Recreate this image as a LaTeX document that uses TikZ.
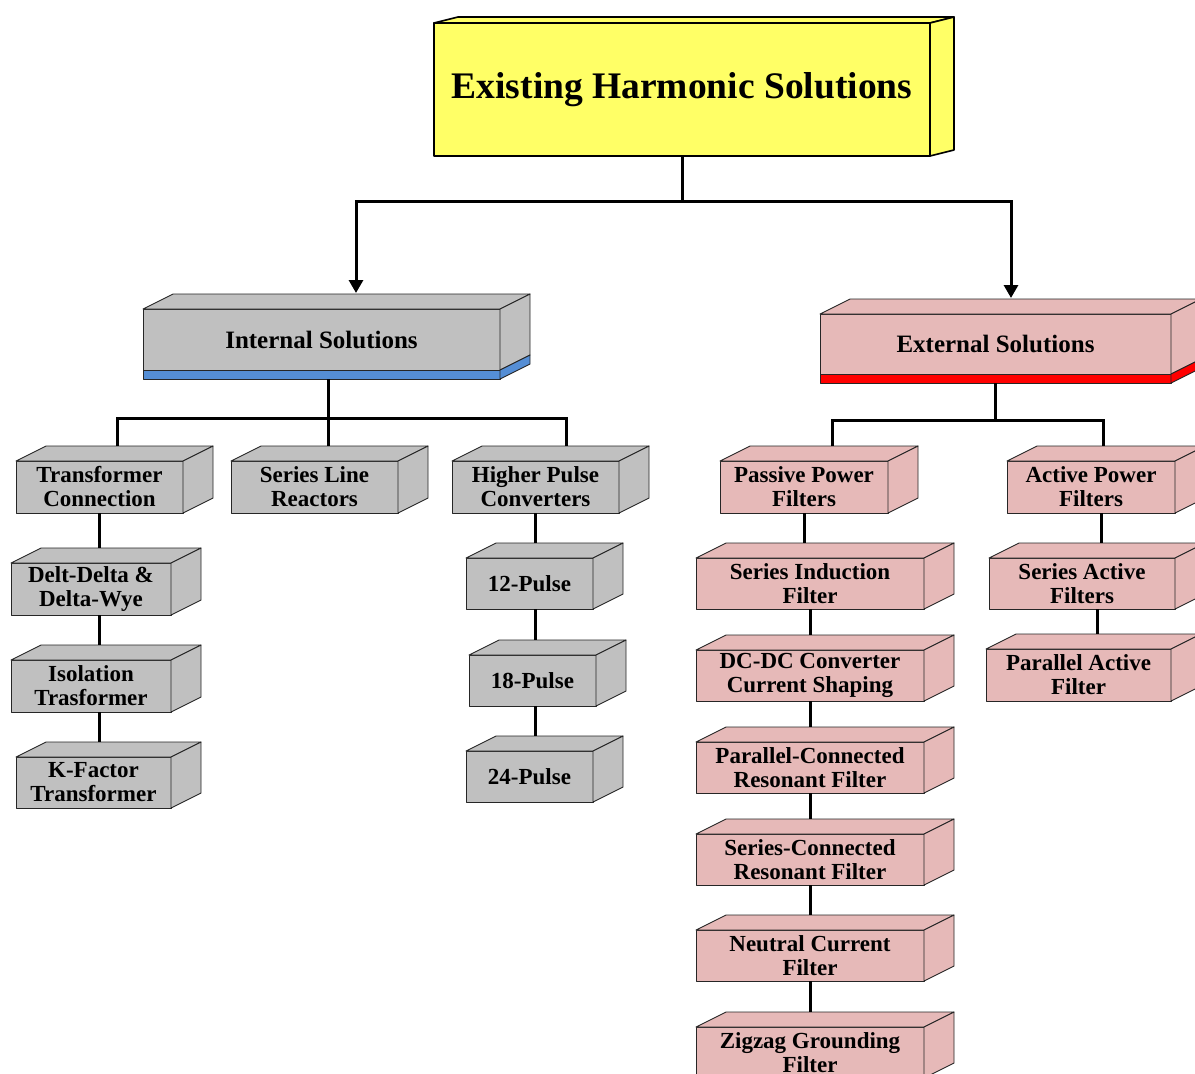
\documentclass[tikz,border=0pt]{standalone}
\usepackage{fontspec}
\setmainfont{Liberation Serif}
\usetikzlibrary{arrows.meta}

\definecolor{boxgray}{HTML}{C0C0C0}
\definecolor{boxpink}{HTML}{E6B9B8}
\definecolor{boxyellow}{HTML}{FFFF66}
\definecolor{stripblue}{HTML}{558ED5}
\definecolor{stripred}{HTML}{FF0000}

% #1 name, #2 left, #3 top, #4 width, #5 height, #6 fill, #7 depth dx, #8 depth dy, #9 text
\newcommand\solidbox[9]{%
  \node[block, fill=#6, minimum width=#4pt, minimum height=#5pt] (#1) at (#2,#3) {#9};
  \filldraw[face, fill=#6] (#1.north west) -- ++(#7,#8) -- ([shift={(#7,#8)}]#1.north east) -- (#1.north east) -- cycle;
  \filldraw[face, fill=#6] (#1.north east) -- ++(#7,#8) -- ([shift={(#7,#8)}]#1.south east) -- (#1.south east) -- cycle;
  \coordinate (#1-top) at ([shift={(0,#8)}]#1.north);
}

\begin{document}
\begin{tikzpicture}[x=1pt, y=-1pt,
  face/.style={draw=black!85, line width=0.9pt, line join=round},
  block/.style={face, inner sep=0pt, outer sep=0pt, align=center, anchor=north west,
    font=\fontsize{23}{24}\selectfont\bfseries},
  conn/.style={draw=black, line width=3pt},
  arrow/.style={conn, -{Triangle[width=14pt,length=13pt]}}]
\useasboundingbox (0,0) rectangle (1195,1074);
\clip (0,0) rectangle (1195,1074);

% root
\begin{scope}[face/.append style={draw=black, line width=1.6pt}]
\solidbox{top}{434}{23}{496}{133}{boxyellow}{24}{-6}{\raisebox{-2pt}{\fontsize{37.5}{40}\selectfont Existing Harmonic Solutions}}
\end{scope}

% second level
\solidbox{int}{143}{309}{357}{61}{boxgray}{30}{-15}{\fontsize{25}{27}\selectfont Internal Solutions}
\filldraw[face, fill=stripblue] (int.south west) rectangle ++(357,9);
\filldraw[face, fill=stripblue] (int.south east) -- ++(30,-15) -- ++(0,9) -- ++(-30,15) -- cycle;

\solidbox{ext}{820}{314}{351}{60}{boxpink}{30}{-15}{\fontsize{25}{27}\selectfont External Solutions}
\filldraw[face, fill=stripred] (ext.south west) rectangle ++(351,9);
\filldraw[face, fill=stripred] (ext.south east) -- ++(30,-15) -- ++(0,9) -- ++(-30,15) -- cycle;

% internal solutions
\solidbox{tc}{16}{461}{167}{52}{boxgray}{30}{-15}{Transformer\\Connection}
\solidbox{slr}{231}{461}{167}{52}{boxgray}{30}{-15}{Series Line\\Reactors}
\solidbox{hpc}{452}{461}{167}{52}{boxgray}{30}{-15}{Higher Pulse\\Converters}
\solidbox{dd}{11}{563}{160}{52}{boxgray}{30}{-15}{Delt-Delta \&\\Delta-Wye}
\solidbox{iso}{11}{660}{160}{52}{boxgray}{30}{-15}{Isolation\\Trasformer}
\solidbox{kf}{16}{757}{155}{51}{boxgray}{30}{-15}{K-Factor\\Transformer}
\solidbox{p12}{466}{558}{127}{51}{boxgray}{30}{-15}{12-Pulse}
\solidbox{p18}{469}{655}{127}{51}{boxgray}{30}{-15}{18-Pulse}
\solidbox{p24}{466}{751}{127}{51}{boxgray}{30}{-15}{24-Pulse}

% external solutions
\solidbox{ppf}{720}{461}{168}{52}{boxpink}{30}{-15}{Passive Power\\Filters}
\solidbox{apf}{1007}{461}{168}{52}{boxpink}{30}{-15}{Active Power\\Filters}
\solidbox{sif}{696}{558}{228}{51}{boxpink}{30}{-15}{Series Induction\\Filter}
\solidbox{dcf}{696}{650}{228}{51}{boxpink}{30}{-15}{DC-DC Converter\\Current Shaping}
\solidbox{pcr}{696}{742}{228}{51}{boxpink}{30}{-15}{Parallel-Connected\\Resonant Filter}
\solidbox{scr}{696}{834}{228}{51}{boxpink}{30}{-15}{Series-Connected\\Resonant Filter}
\solidbox{ncf}{696}{930}{228}{51}{boxpink}{30}{-15}{Neutral Current\\Filter}
\solidbox{zzf}{696}{1027}{228}{51}{boxpink}{30}{-15}{Zigzag Grounding\\Filter}
\solidbox{saf}{989}{558}{186}{51}{boxpink}{30}{-15}{Series Active\\Filters}
\solidbox{paf}{986}{649}{185}{52}{boxpink}{30}{-15}{Parallel Active\\Filter}

% junction points
\coordinate (bus0) at (top.south |- 0,201);
\coordinate (int-in) at (356,293);
\coordinate (ext-in) at (1011,298);
\coordinate (int-out) at (328,379);
\coordinate (bus1) at (328,418);
\coordinate (tc-in) at (117,446);
\coordinate (slr-in) at (328,446);
\coordinate (hpc-in) at (566,446);
\coordinate (ext-out) at (995,383);
\coordinate (bus2) at (995,420);
\coordinate (ppf-in) at (832,446);
\coordinate (apf-in) at (1103,446);
\coordinate (apf-out) at ([xshift=10pt]apf.south);
\coordinate (saf-out) at ([xshift=15pt]saf.south);

% root to second level
\draw[conn] (top.south) -- (bus0);
\draw[arrow] (bus0) -| (int-in);
\draw[arrow] (bus0) -| (ext-in);

% internal branch
\draw[conn] (int-out) -- (bus1);
\draw[conn] (tc-in) |- (bus1) -| (hpc-in);
\draw[conn] (bus1) -- (slr-in);
\draw[conn] (tc.south) -- (tc.south |- dd-top);
\draw[conn] (tc.south |- dd.south) -- (tc.south |- iso-top);
\draw[conn] (tc.south |- iso.south) -- (tc.south |- kf-top);
\draw[conn] (hpc.south) -- (hpc.south |- p12-top);
\draw[conn] (hpc.south |- p12.south) -- (hpc.south |- p18-top);
\draw[conn] (hpc.south |- p18.south) -- (hpc.south |- p24-top);

% external branch
\draw[conn] (ext-out) -- (bus2);
\draw[conn] (ppf-in) |- (bus2) -| (apf-in);
\draw[conn] (ppf.south) -- (ppf.south |- sif-top);
\draw[conn] (sif.south) -- (sif.south |- dcf-top);
\draw[conn] (dcf.south) -- (dcf.south |- pcr-top);
\draw[conn] (pcr.south) -- (pcr.south |- scr-top);
\draw[conn] (scr.south) -- (scr.south |- ncf-top);
\draw[conn] (ncf.south) -- (ncf.south |- zzf-top);
\draw[conn] (apf-out) -- (apf-out |- saf-top);
\draw[conn] (saf-out) -- (saf-out |- paf-top);
\end{tikzpicture}
\end{document}
